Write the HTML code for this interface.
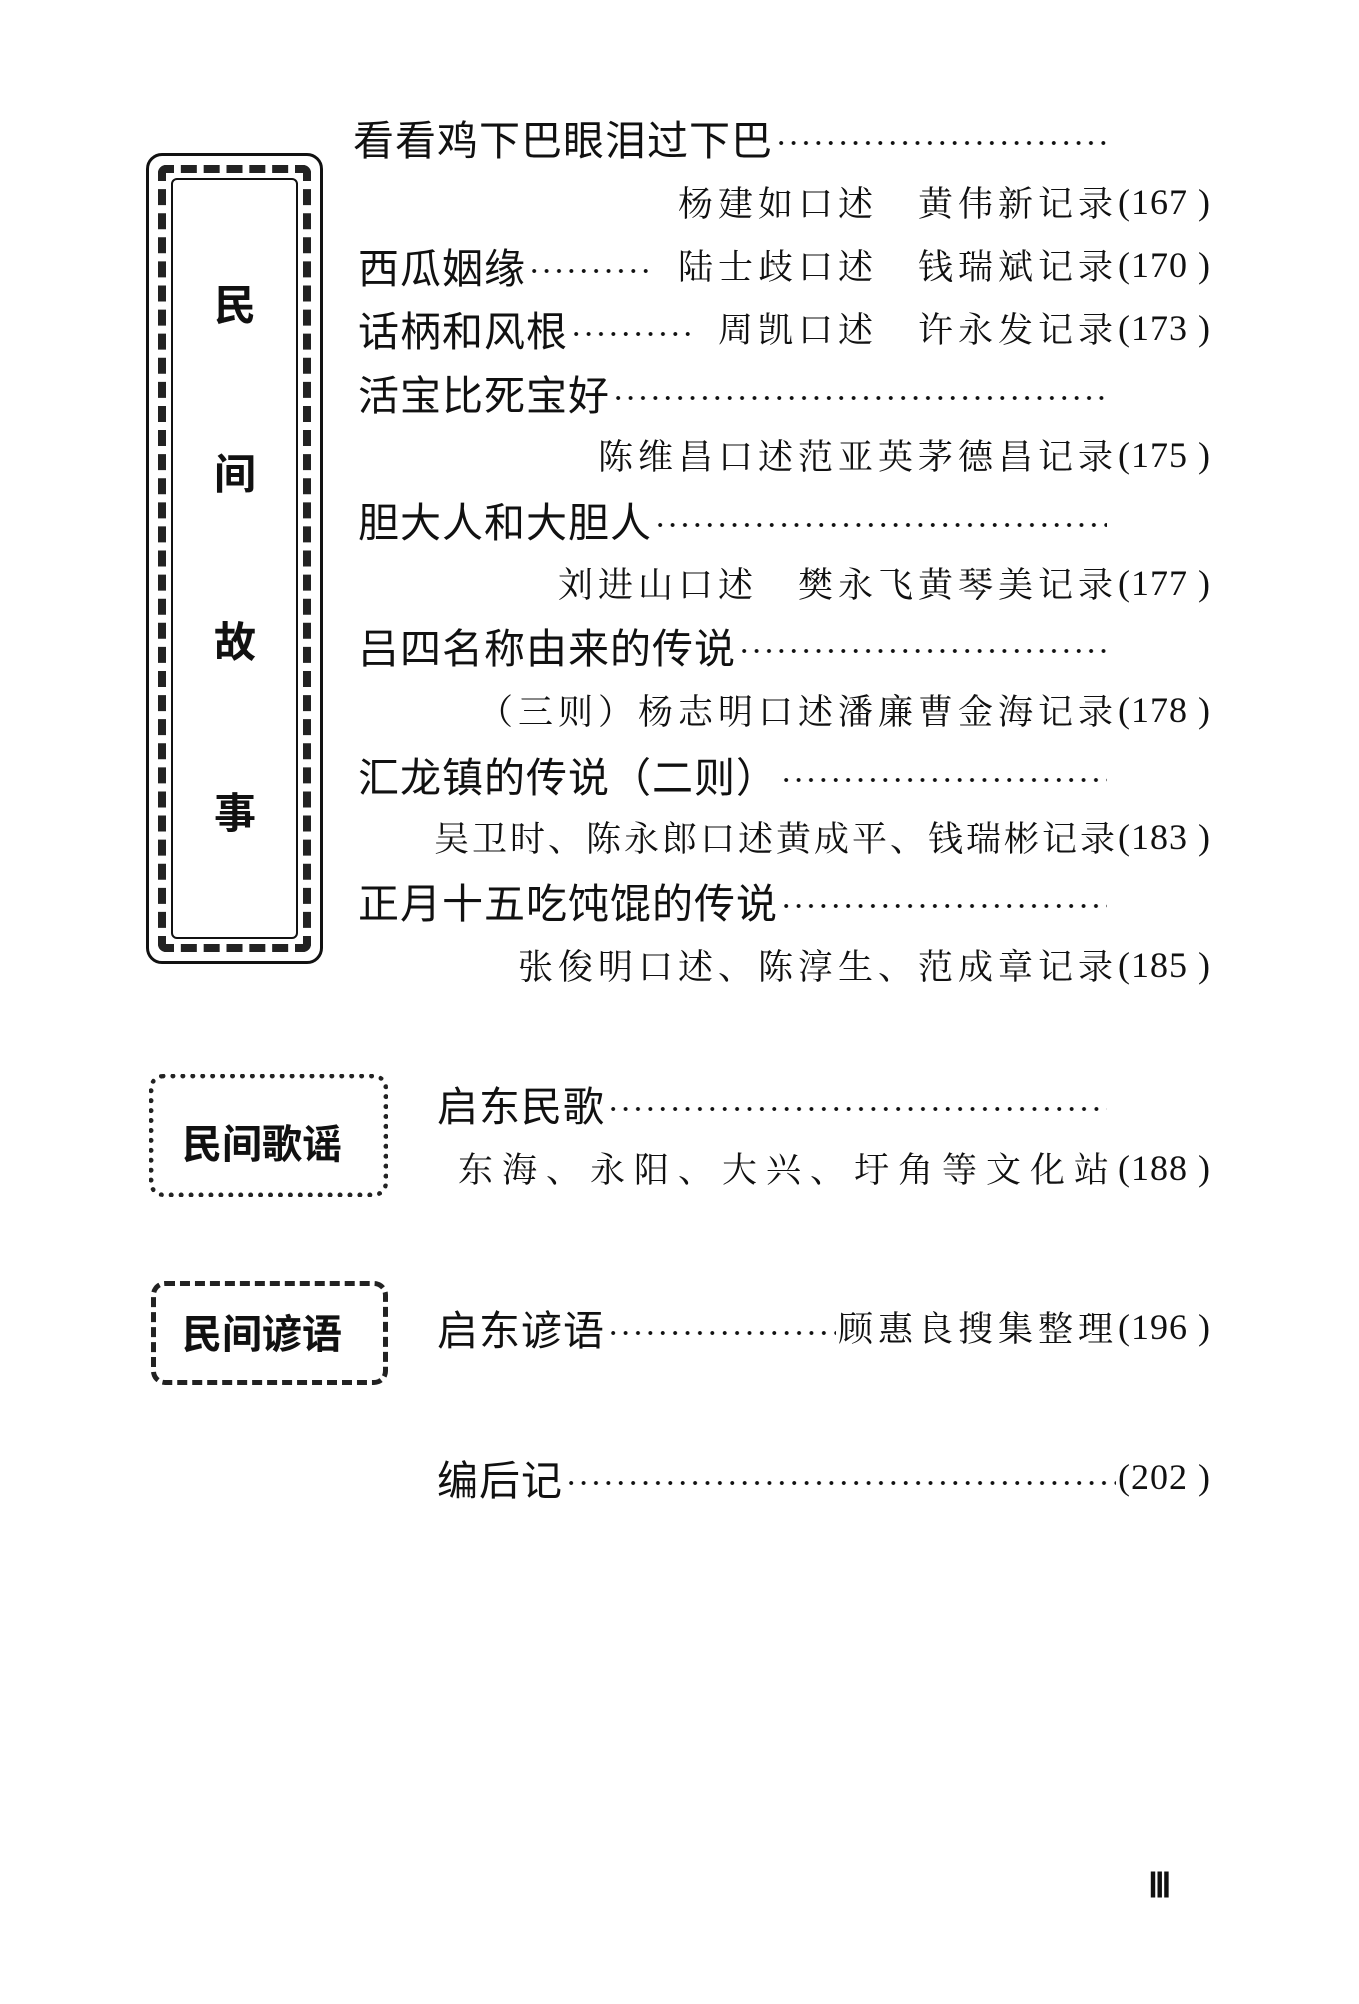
<!DOCTYPE html>
<html><head><meta charset="utf-8"><style>
body{margin:0;width:1359px;height:2004px;background:#fff;position:relative;overflow:hidden;font-family:"Liberation Serif","Noto Serif CJK SC","Noto Sans CJK SC",serif;color:#111}
.l{position:absolute;left:358px;display:flex;align-items:center;height:50px;white-space:nowrap}
.t{font-size:41px;font-family:"Noto Sans CJK SC",sans-serif;font-weight:400;letter-spacing:1px}
.d{flex:1;height:50px;background-image:radial-gradient(circle,#111 1.7px,transparent 2.2px);background-size:12.4px 50px;background-position:0 6px;margin:0 2px}
.s{font-size:35px;letter-spacing:5px;font-family:"Noto Serif CJK SC",serif}
.n{font-size:36px;font-family:"Liberation Serif",serif;letter-spacing:1px}
.r{position:absolute;right:148px;height:50px;display:flex;align-items:center;white-space:nowrap}
.box1{position:absolute;left:146px;top:153px;width:171px;height:805px;border:3px solid #111;border-radius:16px}
.box1 .in{position:absolute;left:9px;top:9px;right:9px;bottom:9px;border:8px dashed #222;border-radius:8px}
.box1 .in2{position:absolute;left:22px;top:22px;right:22px;bottom:22px;border:2px solid #111;border-radius:6px}
.vc{position:absolute;left:214px;font-size:42px;font-family:"Noto Sans CJK SC",sans-serif;font-weight:700}
.bx{position:absolute;border:5px dotted #222;border-radius:14px}
.bl{position:absolute;font-size:40px;font-family:"Noto Sans CJK SC",sans-serif;font-weight:700}
</style></head><body>

<div class="box1"><div class="in"></div><div class="in2"></div></div>
<div class="vc" style="top:272px">民</div>
<div class="vc" style="top:441px">间</div>
<div class="vc" style="top:609px">故</div>
<div class="vc" style="top:780px">事</div>

<div class="l" style="top:112px;left:353px;right:250px"><span class="t">看看鸡下巴眼泪过下巴</span><span class="d"></span></div>
<div class="r" style="top:177px"><span class="s">杨建如口述　黄伟新记录</span><span class="n">(167 )</span></div>
<div class="l" style="top:240px;right:148px"><span class="t">西瓜姻缘</span><span class="d" style="flex:0 0 120px"></span><span style="flex:1"></span><span class="s">陆士歧口述　钱瑞斌记录</span><span class="n">(170 )</span></div>
<div class="l" style="top:303px;right:148px"><span class="t">话柄和风根</span><span class="d" style="flex:0 0 120px"></span><span style="flex:1"></span><span class="s">周凯口述　许永发记录</span><span class="n">(173 )</span></div>
<div class="l" style="top:367px;right:250px"><span class="t">活宝比死宝好</span><span class="d"></span></div>
<div class="r" style="top:430px"><span class="s">陈维昌口述范亚英茅德昌记录</span><span class="n">(175 )</span></div>
<div class="l" style="top:494px;right:250px"><span class="t">胆大人和大胆人</span><span class="d"></span></div>
<div class="r" style="top:558px"><span class="s">刘进山口述　樊永飞黄琴美记录</span><span class="n">(177 )</span></div>
<div class="l" style="top:620px;right:250px"><span class="t">吕四名称由来的传说</span><span class="d"></span></div>
<div class="r" style="top:685px"><span class="s">（三则）杨志明口述潘廉曹金海记录</span><span class="n">(178 )</span></div>
<div class="l" style="top:749px;right:250px"><span class="t">汇龙镇的传说（二则）</span><span class="d"></span></div>
<div class="r" style="top:812px"><span class="s" style="letter-spacing:3px">吴卫时、陈永郎口述黄成平、钱瑞彬记录</span><span class="n">(183 )</span></div>
<div class="l" style="top:875px;right:250px"><span class="t">正月十五吃饨馄的传说</span><span class="d"></span></div>
<div class="r" style="top:940px"><span class="s">张俊明口述、陈淳生、范成章记录</span><span class="n">(185 )</span></div>

<div class="bx" style="left:149px;top:1074px;width:229px;height:113px"></div>
<div class="bl" style="left:182px;top:1112px">民间歌谣</div>
<div class="l" style="top:1078px;left:437px;right:250px"><span class="t">启东民歌</span><span class="d"></span></div>
<div class="r" style="top:1143px"><span class="s" style="letter-spacing:9px">东海、永阳、大兴、圩角等文化站</span><span class="n">(188 )</span></div>

<div class="bx" style="left:151px;top:1281px;width:227px;height:94px;border-style:dashed"></div>
<div class="bl" style="left:182px;top:1302px">民间谚语</div>
<div class="l" style="top:1302px;left:437px;right:148px"><span class="t">启东谚语</span><span class="d"></span><span class="s">顾惠良搜集整理</span><span class="n">(196 )</span></div>

<div class="l" style="top:1452px;left:437px;right:148px"><span class="t">编后记</span><span class="d"></span><span class="n">(202 )</span></div>

<div style="position:absolute;left:1148px;top:1866px;font-size:34px;font-weight:bold;font-family:'Liberation Serif',serif">Ⅲ</div>
</body></html>
